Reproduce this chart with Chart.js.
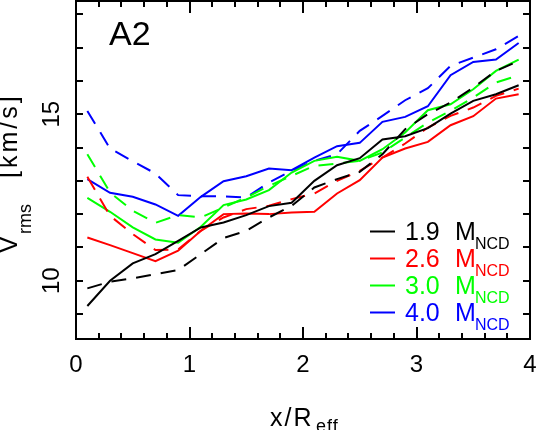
<!DOCTYPE html>
<html>
<head>
<meta charset="utf-8">
<script src="https://cdn.jsdelivr.net/npm/chart.js@4/dist/chart.umd.min.js"></script>
<style>
  html, body { margin: 0; padding: 0; background: #fff; }
  #wrap { width: 538px; height: 430px; }
</style>
</head>
<body>
<div id="wrap"><canvas id="vrmsChart" width="538" height="430"></canvas></div>
<script>
// radial bins, x / R_eff
const radius = [0.1, 0.3, 0.5, 0.7, 0.9, 1.1, 1.3, 1.5, 1.7, 1.9, 2.1, 2.3, 2.5, 2.7, 2.9, 3.1, 3.3, 3.5, 3.7, 3.9];

// V_rms [km/s], solid and dashed curve for each NCD mass
const m19Solid  = [9.24, 10.0, 10.52, 10.8, 11.2, 11.6, 11.75, 11.97, 12.24, 12.34, 13.0, 13.47, 13.68, 14.24, 14.34, 14.58, 15.02, 15.4, 15.6, 15.87];
const m19Dashed = [9.77, 9.97, 10.07, 10.2, 10.32, 10.8, 11.28, 11.5, 11.9, 12.25, 12.8, 13.05, 13.27, 13.8, 14.55, 15.0, 15.35, 15.8, 16.3, 16.6];
const m26Solid  = [11.3, 11.07, 10.83, 10.59, 10.9, 11.5, 12.0, 12.02, 12.0, 12.05, 12.07, 12.62, 13.02, 13.7, 13.97, 14.17, 14.67, 14.94, 15.47, 15.6];
const m26Dashed = [13.12, 11.95, 11.4, 10.92, 10.94, 11.5, 11.9, 12.15, 12.25, 12.45, 12.62, 13.0, 13.3, 13.7, 14.12, 14.6, 14.95, 15.2, 15.55, 15.77];
const m30Solid  = [12.49, 12.07, 11.6, 11.24, 11.14, 11.62, 12.27, 12.44, 12.72, 13.25, 13.6, 13.72, 13.6, 13.95, 14.45, 15.12, 15.3, 15.75, 16.3, 16.64];
const m30Dashed = [13.8, 12.65, 12.1, 11.74, 11.97, 11.9, 12.2, 12.5, 12.85, 13.15, 13.45, 13.52, 13.6, 13.85, 14.3, 14.75, 15.1, 15.5, 15.95, 16.17];
const m40Solid  = [13.05, 12.64, 12.52, 12.29, 11.95, 12.52, 12.99, 13.14, 13.37, 13.32, 13.7, 14.04, 14.14, 14.77, 14.92, 15.24, 16.17, 16.57, 16.64, 17.14];
const m40Dashed = [15.1, 13.97, 13.59, 13.22, 12.57, 12.54, 12.53, 12.5, 12.95, 13.3, 13.6, 13.8, 14.5, 14.95, 15.42, 15.78, 16.45, 16.7, 16.95, 17.35];

const massLabels = ['1.9', '2.6', '3.0', '4.0'];
const massColors = ['#000000', '#ff0000', '#00ff00', '#0000ff'];

// axis ticks
const xTicks = [0, 0.2, 0.4, 0.6, 0.8, 1, 1.2, 1.4, 1.6, 1.8, 2, 2.2, 2.4, 2.6, 2.8, 3, 3.2, 3.4, 3.6, 3.8, 4];
const xLabels = [0, 1, 2, 3, 4];
const yTicks = [9, 10, 11, 12, 13, 14, 15, 16, 17, 18];
const yLabels = [10, 15];

const FONT = '"Liberation Sans", Arial, sans-serif';
const DASH = [15, 10];

function pts(values) {
  return radius.map((r, i) => ({ x: r, y: values[i] }));
}

function curve(values, color, dashed) {
  return {
    data: pts(values),
    borderColor: color,
    borderWidth: 2,
    borderDash: dashed ? DASH : [],
    pointRadius: 0,
    tension: 0,
    fill: false
  };
}

// frame with inward ticks on all four sides, tick labels, titles
const frameAndText = {
  id: 'frameAndText',
  afterDatasetsDraw(chart) {
    const { ctx, chartArea: a, scales: { x, y } } = chart;
    ctx.save();
    ctx.strokeStyle = '#000';
    ctx.lineWidth = 2;
    const seg = (x1, y1, x2, y2) => { ctx.beginPath(); ctx.moveTo(x1, y1); ctx.lineTo(x2, y2); ctx.stroke(); };

    ctx.strokeRect(a.left, a.top, a.right - a.left, a.bottom - a.top);

    xTicks.forEach(v => {
      const px = Math.round(x.getPixelForValue(v));
      const len = xLabels.includes(v) ? 12 : 6;
      seg(px, a.bottom, px, a.bottom - len);
      seg(px, a.top, px, a.top + len);
    });
    yTicks.forEach(v => {
      const py = Math.round(y.getPixelForValue(v));
      seg(a.left, py, a.left + 7, py);
      seg(a.right, py, a.right - 7, py);
    });

    ctx.fillStyle = '#000';
    ctx.font = '24px ' + FONT;
    ctx.textAlign = 'center';
    ctx.textBaseline = 'alphabetic';
    xLabels.forEach(v => ctx.fillText(String(v), x.getPixelForValue(v), 372));

    yLabels.forEach(v => {
      ctx.save();
      ctx.translate(59, y.getPixelForValue(v));
      ctx.rotate(-Math.PI / 2);
      ctx.fillText(String(v), 0, 0);
      ctx.restore();
    });

    // y title
    ctx.save();
    ctx.translate(17, 253);
    ctx.rotate(-Math.PI / 2);
    ctx.textAlign = 'left';
    ctx.font = '25px ' + FONT;
    ctx.fillText('V', 0, 0);
    ctx.font = '18px ' + FONT;
    ctx.fillText('rms', 19, 14);
    ctx.font = '25px ' + FONT;
    ctx.letterSpacing = '3px';
    ctx.fillText('[km/s]', 75, 0);
    ctx.restore();

    // x title
    ctx.textAlign = 'left';
    ctx.letterSpacing = '2px';
    ctx.font = '25px ' + FONT;
    ctx.fillText('x/R', 270, 426);
    ctx.letterSpacing = '1px';
    ctx.font = '18px ' + FONT;
    ctx.fillText('eff', 316, 432);
    ctx.letterSpacing = '0px';

    // panel tag
    ctx.font = '34px ' + FONT;
    ctx.fillText('A2', 109, 45);

    // legend
    massLabels.forEach((lab, i) => {
      const cy = 231.5 + i * 27;
      ctx.strokeStyle = massColors[i];
      ctx.fillStyle = massColors[i];
      seg(370, cy, 395, cy);
      ctx.font = '25px ' + FONT;
      ctx.fillText(lab, 405, cy + 8.5);
      ctx.fillText('M', 455, cy + 8.5);
      ctx.font = '16px ' + FONT;
      ctx.fillText('NCD', 475, cy + 17.5);
    });
    ctx.restore();
  }
};

new Chart(document.getElementById('vrmsChart'), {
  type: 'line',
  data: {
    datasets: [
      curve(m19Solid, massColors[0], false),
      curve(m19Dashed, massColors[0], true),
      curve(m26Solid, massColors[1], false),
      curve(m26Dashed, massColors[1], true),
      curve(m30Solid, massColors[2], false),
      curve(m30Dashed, massColors[2], true),
      curve(m40Solid, massColors[3], false),
      curve(m40Dashed, massColors[3], true)
    ]
  },
  options: {
    responsive: false,
    animation: false,
    devicePixelRatio: 1,
    layout: { padding: { left: 76, right: 8, top: 1, bottom: 91 } },
    plugins: { legend: { display: false }, tooltip: { enabled: false } },
    scales: {
      x: { type: 'linear', min: 0, max: 4, display: false },
      y: { type: 'linear', min: 8.25, max: 18.4, display: false }
    }
  },
  plugins: [frameAndText]
});
</script>
</body>
</html>
